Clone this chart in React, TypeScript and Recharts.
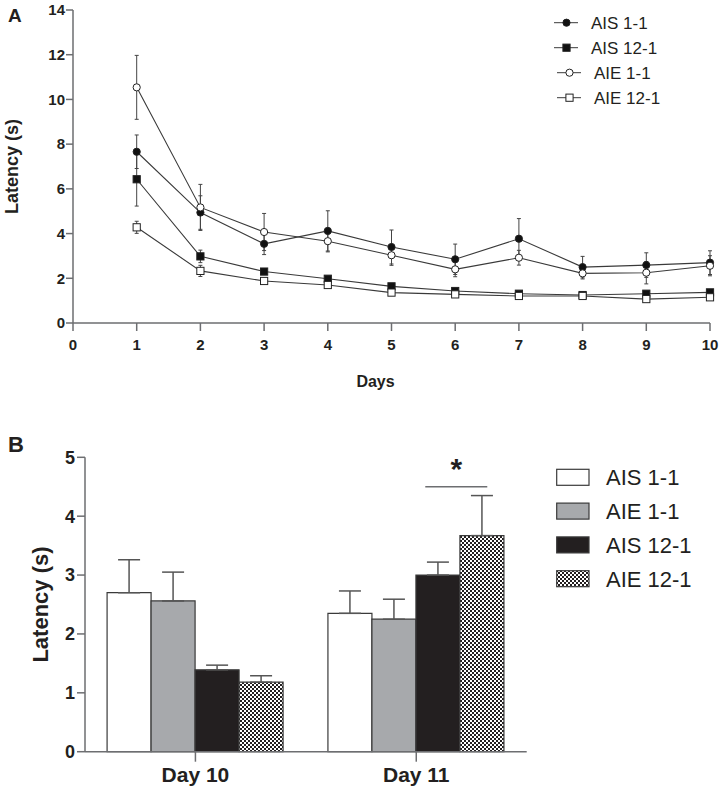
import { LineChart, Line, XAxis, YAxis, ErrorBar, BarChart, Bar, ReferenceDot } from 'recharts'

const FONT = "'Liberation Sans', Arial, Helvetica, sans-serif"
const INK = '#231f20'
const AXIS = '#6d6e71'
const LINE = '#3a3a3a'

// panel A: latency per training day
const days = [1, 2, 3, 4, 5, 6, 7, 8, 9, 10]
const ais11 = [7.66, 4.94, 3.54, 4.12, 3.4, 2.85, 3.77, 2.5, 2.59, 2.7]
const ais11Sem = [0.75, 0.75, 0.48, 0.9, 0.76, 0.68, 0.9, 0.48, 0.55, 0.53]
const ais121 = [6.43, 2.98, 2.3, 1.98, 1.64, 1.43, 1.31, 1.25, 1.31, 1.37]
const ais121Sem = [1.2, 0.28, 0.12, 0.1, 0.1, 0.08, 0.08, 0.08, 0.08, 0.08]
const aie11 = [10.54, 5.17, 4.07, 3.66, 3.03, 2.4, 2.92, 2.22, 2.25, 2.56]
const aie11Sem = [1.43, 1.03, 0.83, 0.48, 0.45, 0.33, 0.33, 0.25, 0.5, 0.45]
const aie121 = [4.28, 2.33, 1.88, 1.7, 1.36, 1.28, 1.21, 1.21, 1.07, 1.15]
const aie121Sem = [0.27, 0.25, 0.1, 0.08, 0.08, 0.06, 0.06, 0.06, 0.06, 0.06]
const dayTicks = [0, 1, 2, 3, 4, 5, 6, 7, 8, 9, 10]
const latencyTicksA = [0, 2, 4, 6, 8, 10, 12, 14]

// panel B: day 10 vs day 11
const groups = ['Day 10', 'Day 11']
const bAis11 = [2.7, 2.35]
const bAis11Sem = [0.56, 0.38]
const bAie11 = [2.56, 2.25]
const bAie11Sem = [0.49, 0.34]
const bAis121 = [1.39, 3.0]
const bAis121Sem = [0.08, 0.22]
const bAie121 = [1.18, 3.67]
const bAie121Sem = [0.11, 0.68]
const latencyTicksB = [0, 1, 2, 3, 4, 5]

const lineData = days.map((d, i) => ({
  day: d,
  ais11: ais11[i],
  ais11Err: ais11Sem[i],
  ais121: ais121[i],
  ais121Err: ais121Sem[i],
  aie11: aie11[i],
  aie11Err: aie11Sem[i],
  aie121: aie121[i],
  aie121Err: aie121Sem[i],
}))

const barData = groups.map((g, i) => ({
  group: g,
  ais11: bAis11[i],
  ais11Err: [0, bAis11Sem[i]],
  aie11: bAie11[i],
  aie11Err: [0, bAie11Sem[i]],
  ais121: bAis121[i],
  ais121Err: [0, bAis121Sem[i]],
  aie121: bAie121[i],
  aie121Err: [0, bAie121Sem[i]],
}))

const lineSeries = [
  { key: 'ais11', name: 'AIS 1-1', shape: 'circle', filled: true },
  { key: 'ais121', name: 'AIS 12-1', shape: 'square', filled: true },
  { key: 'aie11', name: 'AIE 1-1', shape: 'circle', filled: false },
  { key: 'aie121', name: 'AIE 12-1', shape: 'square', filled: false },
]

const barSeries = [
  { key: 'ais11', name: 'AIS 1-1', fill: '#ffffff' },
  { key: 'aie11', name: 'AIE 1-1', fill: '#a7a9ac' },
  { key: 'ais121', name: 'AIS 12-1', fill: '#231f20' },
  { key: 'aie121', name: 'AIE 12-1', fill: 'url(#checker)' },
]

function Marker({ cx, cy, shape, filled }: any) {
  if (cx == null || cy == null) return null
  const fill = filled ? '#111' : '#fff'
  if (shape === 'circle') {
    return <circle cx={cx} cy={cy} r={3.6} fill={fill} stroke="#222" strokeWidth={1} />
  }
  return <rect x={cx - 3.6} y={cy - 3.6} width={7.2} height={7.2} fill={fill} stroke="#222" strokeWidth={1} />
}

function LegendA() {
  return (
    <svg width={160} height={110} style={{ position: 'absolute', left: 550, top: 10 }}>
      {lineSeries.map((s, i) => {
        const y = 12.7 + i * 25
        const shift = s.filled ? 0 : 3
        return (
          <g key={s.key}>
            <line x1={4 + shift} x2={28 + shift} y1={y} y2={y} stroke={LINE} strokeWidth={1} />
            <Marker cx={16.5 + shift} cy={y} shape={s.shape} filled={s.filled} />
            <text x={41 + shift} y={y + 6} fontSize={17} fill={INK} fontFamily={FONT}>
              {s.name}
            </text>
          </g>
        )
      })}
    </svg>
  )
}

function LegendB() {
  return (
    <svg width={170} height={140} style={{ position: 'absolute', left: 550, top: 460 }}>
      {barSeries.map((s, i) => {
        const y = 17.3 + i * 33.8
        return (
          <g key={s.key}>
            <rect x={6.7} y={y - 8} width={32.3} height={16} fill={s.fill} stroke="#3a3a3a" strokeWidth={1.2} />
            <text x={56} y={y + 7.8} fontSize={22} fill={INK} fontFamily={FONT}>
              {s.name}
            </text>
          </g>
        )
      })}
    </svg>
  )
}

function SigMark(p: any) {
  const { cx, cy } = p
  if (cx == null || cy == null) return <g />
  return (
    <g>
      <line x1={cx + 9} x2={cx + 71} y1={cy} y2={cy} stroke={AXIS} strokeWidth={1.5} />
      <text x={cx + 40} y={cy - 8} textAnchor="middle" fontSize={30} fontWeight="bold" fill={INK} fontFamily={FONT}>
        *
      </text>
    </g>
  )
}

const axisStyle = { stroke: AXIS, strokeWidth: 1.5 }

export default function App() {
  return (
    <div style={{ position: 'absolute', left: 0, top: 0, width: 720, height: 789, background: '#fff', fontFamily: FONT }}>
      <svg width={0} height={0} style={{ position: 'absolute' }}>
        <defs>
          <pattern id="checker" width={4} height={4} patternUnits="userSpaceOnUse">
            <rect width={4} height={4} fill="#fff" />
            <rect width={2} height={2} fill="#231f20" />
            <rect x={2} y={2} width={2} height={2} fill="#231f20" />
          </pattern>
        </defs>
      </svg>

      <div style={{ position: 'absolute', left: 8, top: 6, fontSize: 19, fontWeight: 'bold', lineHeight: 1, color: INK }}>A</div>
      <div style={{ position: 'absolute', left: 0, top: 0 }}>
        <LineChart width={720} height={400} data={lineData} margin={{ top: 10, right: 10, bottom: 10, left: 0 }}>
          <XAxis
            dataKey="day"
            type="number"
            domain={[0, 10]}
            ticks={dayTicks}
            height={67}
            tickSize={8}
            tickMargin={8}
            axisLine={axisStyle}
            tickLine={axisStyle}
            tick={{ fill: INK, fontSize: 15, fontWeight: 'bold', fontFamily: FONT }}
            label={{ value: 'Days', position: 'insideBottom', offset: 3, dx: -16, fill: INK, fontSize: 16, fontWeight: 'bold', fontFamily: FONT }}
          />
          <YAxis
            type="number"
            domain={[0, 14]}
            ticks={latencyTicksA}
            width={73}
            tickSize={7}
            tickMargin={1}
            axisLine={axisStyle}
            tickLine={axisStyle}
            tick={{ fill: INK, fontSize: 15, fontWeight: 'bold', fontFamily: FONT }}
            label={{ value: 'Latency (s)', angle: -90, position: 'insideLeft', offset: 11.5, fill: INK, fontSize: 18, fontWeight: 'bold', fontFamily: FONT, style: { textAnchor: 'middle' } }}
          />
          {lineSeries.map((s) => (
            <Line
              key={s.key}
              dataKey={s.key}
              name={s.name}
              type="linear"
              stroke={LINE}
              strokeWidth={1.1}
              isAnimationActive={false}
              activeDot={false}
              dot={(p: any) => <Marker key={`${s.key}-${p.index}`} cx={p.cx} cy={p.cy} shape={s.shape} filled={s.filled} />}
            >
              <ErrorBar dataKey={`${s.key}Err`} width={2} stroke="#444" strokeWidth={1} direction="y" />
            </Line>
          ))}
        </LineChart>
      </div>
      <LegendA />

      <div style={{ position: 'absolute', left: 8, top: 434, fontSize: 22, fontWeight: 'bold', lineHeight: 1, color: INK }}>B</div>
      <div style={{ position: 'absolute', left: 0, top: 420 }}>
        <BarChart
          width={720}
          height={369}
          data={barData}
          margin={{ top: 37.3, right: 193.3, bottom: 0, left: 0 }}
          barCategoryGap="10%"
          barGap={0}
        >
          <XAxis
            dataKey="group"
            height={37.3}
            tickSize={10}
            tickMargin={5}
            axisLine={axisStyle}
            tickLine={axisStyle}
            tick={{ fill: INK, fontSize: 21, fontWeight: 'bold', fontFamily: FONT }}
          />
          <YAxis
            type="number"
            domain={[0, 5]}
            ticks={latencyTicksB}
            width={85}
            tickSize={8}
            tickMargin={2}
            axisLine={axisStyle}
            tickLine={axisStyle}
            tick={{ fill: INK, fontSize: 18, fontWeight: 'bold', fontFamily: FONT }}
            label={{ value: 'Latency (s)', angle: -90, position: 'insideLeft', offset: 40, fill: INK, fontSize: 22, fontWeight: 'bold', fontFamily: FONT, style: { textAnchor: 'middle' } }}
          />
          {barSeries.map((b) => (
            <Bar key={b.key} dataKey={b.key} name={b.name} fill={b.fill} stroke="#3a3a3a" strokeWidth={1.2} isAnimationActive={false}>
              <ErrorBar dataKey={`${b.key}Err`} width={11} stroke="#555" strokeWidth={1.5} direction="y" />
            </Bar>
          ))}
          <ReferenceDot x="Day 11" y={4.5} shape={SigMark} />
        </BarChart>
      </div>
      <LegendB />
    </div>
  )
}
